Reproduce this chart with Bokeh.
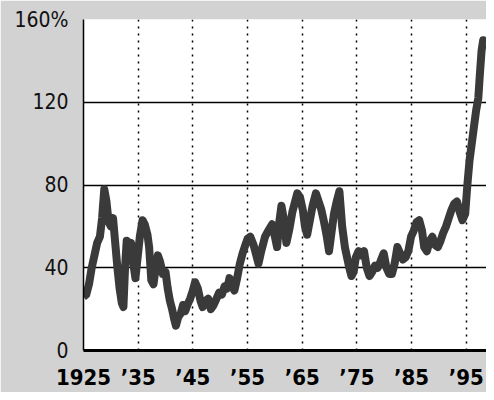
from bokeh.plotting import figure
from bokeh.models import FixedTicker
from bokeh.embed import file_html
from bokeh.resources import INLINE

years = [1925.0, 1925.5, 1926.0, 1926.5, 1927.0, 1927.5, 1928.0, 1928.4, 1928.8, 1929.2,
         1929.6, 1930.0, 1930.4, 1930.8, 1931.2, 1931.6, 1932.0, 1932.3, 1932.6, 1932.9,
         1933.3, 1933.7, 1934.1, 1934.5, 1934.9, 1935.3, 1935.8, 1936.2, 1936.7, 1937.0,
         1937.4, 1937.8, 1938.2, 1938.6, 1939.0, 1939.5, 1940.0, 1940.4, 1940.8, 1941.2,
         1941.6, 1941.9, 1942.3, 1942.8, 1943.2, 1943.6, 1944.0, 1944.5, 1945.0, 1945.4,
         1945.9, 1946.4, 1946.8, 1947.3, 1947.8, 1948.3, 1948.8, 1949.3, 1949.8, 1950.3,
         1950.8, 1951.3, 1951.7, 1952.2, 1952.6, 1953.1, 1953.6, 1954.1, 1954.6, 1955.0,
         1955.5, 1956.1, 1956.6, 1957.0, 1957.5, 1958.2, 1958.8, 1959.5, 1960.0, 1960.4,
         1960.8, 1961.2, 1961.6, 1962.1, 1962.6, 1963.2, 1963.6, 1964.1, 1964.6, 1965.1,
         1965.5, 1965.9, 1966.4, 1966.9, 1967.5, 1968.0, 1968.5, 1969.0, 1969.5, 1969.9,
         1970.3, 1970.8, 1971.3, 1971.8, 1972.3, 1972.8, 1973.2, 1973.6, 1974.0, 1974.4,
         1974.8, 1975.3, 1975.8, 1976.3, 1976.8, 1977.3, 1977.8, 1978.3, 1978.8, 1979.3,
         1979.9, 1980.4, 1980.9, 1981.4, 1981.9, 1982.4, 1982.9, 1983.4, 1983.9, 1984.4,
         1984.9, 1985.4, 1985.9, 1986.4, 1986.9, 1987.3, 1987.8, 1988.3, 1988.8, 1989.3,
         1989.8, 1990.3, 1990.8, 1991.3, 1991.8, 1992.3, 1992.8, 1993.3, 1993.8, 1994.3,
         1994.8, 1995.2, 1995.6, 1996.0, 1996.4, 1996.8, 1997.2, 1997.5, 1997.8, 1998.1,
         1998.3]
values = [26, 27, 32, 40, 46, 52, 55, 64, 78, 72,
          62, 60, 64, 52, 40, 30, 23, 21, 40, 53,
          48, 52, 42, 35, 45, 55, 63, 61, 56, 50,
          34, 32, 40, 46, 43, 37, 38, 30, 24, 20,
          15, 12, 16, 18, 22, 19, 22, 25, 29, 33,
          30, 24, 21, 24, 25, 20, 22, 25, 28, 27,
          31, 30, 35, 31, 29, 35, 42, 47, 51, 54,
          55, 51, 46, 42, 48, 55, 58, 61, 55, 50,
          62, 70, 64, 52, 58, 67, 71, 76, 74, 68,
          60, 56, 63, 70, 76, 72, 68, 62, 55, 48,
          56, 66, 72, 77, 60, 50, 45, 40, 36, 38,
          45, 48, 46, 48, 40, 36, 38, 41, 40, 43,
          47, 40, 37, 37, 42, 50, 47, 44, 45, 48,
          55, 58, 62, 63, 58, 50, 48, 53, 55, 51,
          50, 53, 57, 60, 64, 68, 71, 72, 67, 63,
          66, 80, 92, 100, 108, 116, 122, 134, 145, 150,
          148]

x_ticks = [1925, 1935, 1945, 1955, 1965, 1975, 1985, 1995]
x_labels = ["1925", "\u201935", "\u201945", "\u201955", "\u201965", "\u201975", "\u201985", "\u201995"]
y_ticks = [0, 40, 80, 120, 160]
y_labels = ["0", "40", "80", "120", "160%"]

p = figure(width=486, height=392, x_range=(1925, 1998.7), y_range=(0, 160),
           output_backend="svg", toolbar_location=None,
           min_border_left=83, min_border_top=19, min_border_bottom=35, min_border_right=0)

p.background_fill_color = "white"
p.border_fill_color = "#d2d2d2"
p.outline_line_color = None

p.xaxis.ticker = FixedTicker(ticks=x_ticks)
p.xaxis.major_label_overrides = {t: l for t, l in zip(x_ticks, x_labels)}
p.yaxis.ticker = FixedTicker(ticks=y_ticks)
p.yaxis.major_label_overrides = {t: l for t, l in zip(y_ticks, y_labels)}

for ax in (p.xaxis, p.yaxis):
    ax.major_tick_line_color = None
    ax.minor_tick_line_color = None
    ax.axis_line_color = "black"

p.xaxis.axis_line_width = 3
p.yaxis.axis_line_width = 1.5
p.xaxis.major_label_text_font = "DejaVu Sans Condensed"
p.xaxis.major_label_text_font_style = "bold"
p.xaxis.major_label_text_font_size = "22px"
p.xaxis.major_label_text_color = "black"
p.xaxis.major_label_standoff = 8
p.yaxis.major_label_text_font = "DejaVu Sans Condensed"
p.yaxis.major_label_text_font_size = "21px"
p.yaxis.major_label_text_color = "#111111"
p.yaxis.major_label_standoff = 9

p.ygrid.grid_line_color = "black"
p.ygrid.grid_line_width = 1.5
p.xgrid.grid_line_color = "black"
p.xgrid.grid_line_width = 1.5
p.xgrid.grid_line_dash = "2 5"

p.line(years, values, line_width=8, line_color="#3a3a3a", line_join="round")

open("out.html", "w").write(file_html(p, INLINE))
